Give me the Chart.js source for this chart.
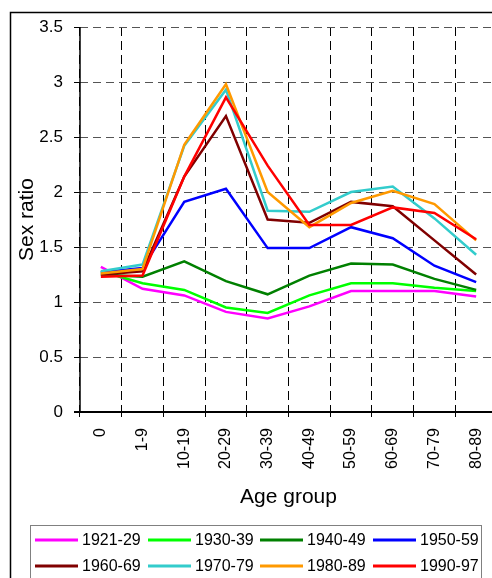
<!DOCTYPE html>
<html>
<head>
<meta charset="utf-8">
<script src="https://cdn.jsdelivr.net/npm/chart.js@4/dist/chart.umd.min.js"></script>
<style>
  html, body { margin: 0; padding: 0; background: #fff; overflow: hidden; }
  #wrap { width: 510px; height: 600px; }
</style>
</head>
<body>
<div id="wrap"><canvas id="myChart"></canvas></div>
<script>
const ageGroups = ["0", "1-9", "10-19", "20-29", "30-39", "40-49", "50-59", "60-69", "70-79", "80-89"];
const yTicks = [0, 0.5, 1, 1.5, 2, 2.5, 3, 3.5];

const cohortLabels = ["1921-29", "1930-39", "1940-49", "1950-59", "1960-69", "1970-79", "1980-89", "1990-97"];
const cohortColors = ["#ff00ff", "#00ff00", "#008000", "#0000ff", "#800000", "#33cccc", "#ff9900", "#ff0000"];

const r1921 = [1.32, 1.12, 1.06, 0.91, 0.85, 0.96, 1.10, 1.10, 1.10, 1.05];
const r1930 = [1.28, 1.17, 1.11, 0.95, 0.90, 1.06, 1.17, 1.17, 1.13, 1.10];
const r1940 = [1.25, 1.23, 1.37, 1.19, 1.07, 1.24, 1.35, 1.34, 1.21, 1.11];
const r1950 = [1.27, 1.31, 1.91, 2.03, 1.49, 1.49, 1.68, 1.58, 1.33, 1.18];
const r1960 = [1.25, 1.28, 2.14, 2.69, 1.75, 1.72, 1.91, 1.87, 1.56, 1.25];
const r1970 = [1.28, 1.34, 2.42, 2.93, 1.83, 1.82, 2.00, 2.05, 1.76, 1.43];
const r1980 = [1.26, 1.30, 2.43, 2.98, 2.00, 1.68, 1.90, 2.01, 1.89, 1.56];
const r1990 = [1.23, 1.24, 2.14, 2.86, 2.24, 1.70, 1.70, 1.86, 1.81, 1.57];

const series = [r1921, r1930, r1940, r1950, r1960, r1970, r1980, r1990];

Chart.defaults.font.family = "'Liberation Sans', Arial, sans-serif";
Chart.defaults.color = "#000";

// outer frame of the whole picture
const framePlugin = {
  id: "frame",
  beforeDraw(chart) {
    const c = chart.ctx;
    c.save();
    c.fillStyle = "#fff";
    c.fillRect(0, 0, chart.width, chart.height);
    c.strokeStyle = "#000";
    c.lineWidth = 1.5;
    c.strokeRect(10.5, 12.5, chart.width + 20, chart.height + 20);
    c.restore();
  },
};

// solid axis lines (the grid is dashed, so draw these by hand)
const axisLinesPlugin = {
  id: "axisLines",
  afterDatasetsDraw(chart) {
    const a = chart.chartArea;
    const c = chart.ctx;
    c.save();
    c.setLineDash([]);
    c.strokeStyle = "#000";
    c.lineWidth = 1.5;
    c.beginPath();
    c.moveTo(a.left, a.top);
    c.lineTo(a.left, a.bottom);
    c.stroke();
    c.lineWidth = 2;
    c.beginPath();
    c.moveTo(a.left - 6, a.bottom);
    c.lineTo(a.right, a.bottom);
    c.stroke();
    c.restore();
  },
};

// legend box under the chart, 4 entries per row
const legendBoxPlugin = {
  id: "legendBox",
  afterDraw(chart) {
    const c = chart.ctx;
    c.save();
    c.strokeStyle = "#808080";
    c.lineWidth = 1;
    c.strokeRect(30.5, 525.5, 451, 80);
    c.font = "16px 'Liberation Sans', Arial, sans-serif";
    c.textBaseline = "middle";
    c.fillStyle = "#000";
    const colX = [35, 148, 260, 373];
    const rowY = [540, 566];
    chart.data.datasets.forEach((ds, i) => {
      const x = colX[i % 4];
      const y = rowY[Math.floor(i / 4)];
      c.strokeStyle = ds.borderColor;
      c.lineWidth = 3;
      c.beginPath();
      c.moveTo(x, y);
      c.lineTo(x + 43, y);
      c.stroke();
      c.fillText(ds.label, x + 47, y + 1);
    });
    c.restore();
  },
};

const ctx = document.getElementById("myChart");
const myChart = new Chart(ctx, {
  type: "line",
  data: {
    labels: ageGroups,
    datasets: series.map((vals, i) => ({
      label: cohortLabels[i],
      data: vals,
      borderColor: cohortColors[i],
      backgroundColor: cohortColors[i],
      borderWidth: 2.5,
      pointRadius: 0,
      tension: 0,
      order: series.length - i,
    })),
  },
  options: {
    responsive: true,
    maintainAspectRatio: false,
    animation: false,
    layout: {
      padding: { left: 0, top: 27, right: 13, bottom: 88 },
    },
    plugins: {
      legend: { display: false },
      tooltip: { enabled: false },
    },
    scales: {
      x: {
        offset: true,
        afterFit(scale) {
          scale.height = 100;
        },
        grid: {
          offset: true,
          color: "#000",
          tickColor: "#000",
          tickLength: 5,
          lineWidth: 1,
          tickBorderDash: [],
        },
        border: { display: false, dash: [9, 5] },
        ticks: {
          minRotation: 90,
          maxRotation: 90,
          padding: 11,
          autoSkip: false,
          font: { size: 16 },
        },
        title: {
          display: true,
          text: "Age group",
          font: { size: 21 },
          padding: { top: 0, bottom: 2 },
        },
      },
      y: {
        min: 0,
        max: 3.5,
        afterFit(scale) {
          scale.width = 80;
        },
        afterBuildTicks(scale) {
          scale.ticks = yTicks.map((v) => ({ value: v }));
        },
        grid: {
          color: "#555",
          tickColor: "#000",
          tickLength: 6,
          lineWidth: 1,
          tickBorderDash: [],
        },
        border: { display: false, dash: [8, 5] },
        ticks: {
          padding: 11,
          font: { size: 17 },
          callback: (v) => String(v),
        },
        title: {
          display: true,
          text: "Sex ratio",
          font: { size: 21 },
          padding: { top: 15, bottom: 0 },
        },
      },
    },
  },
  plugins: [framePlugin, axisLinesPlugin, legendBoxPlugin],
});
</script>
</body>
</html>
